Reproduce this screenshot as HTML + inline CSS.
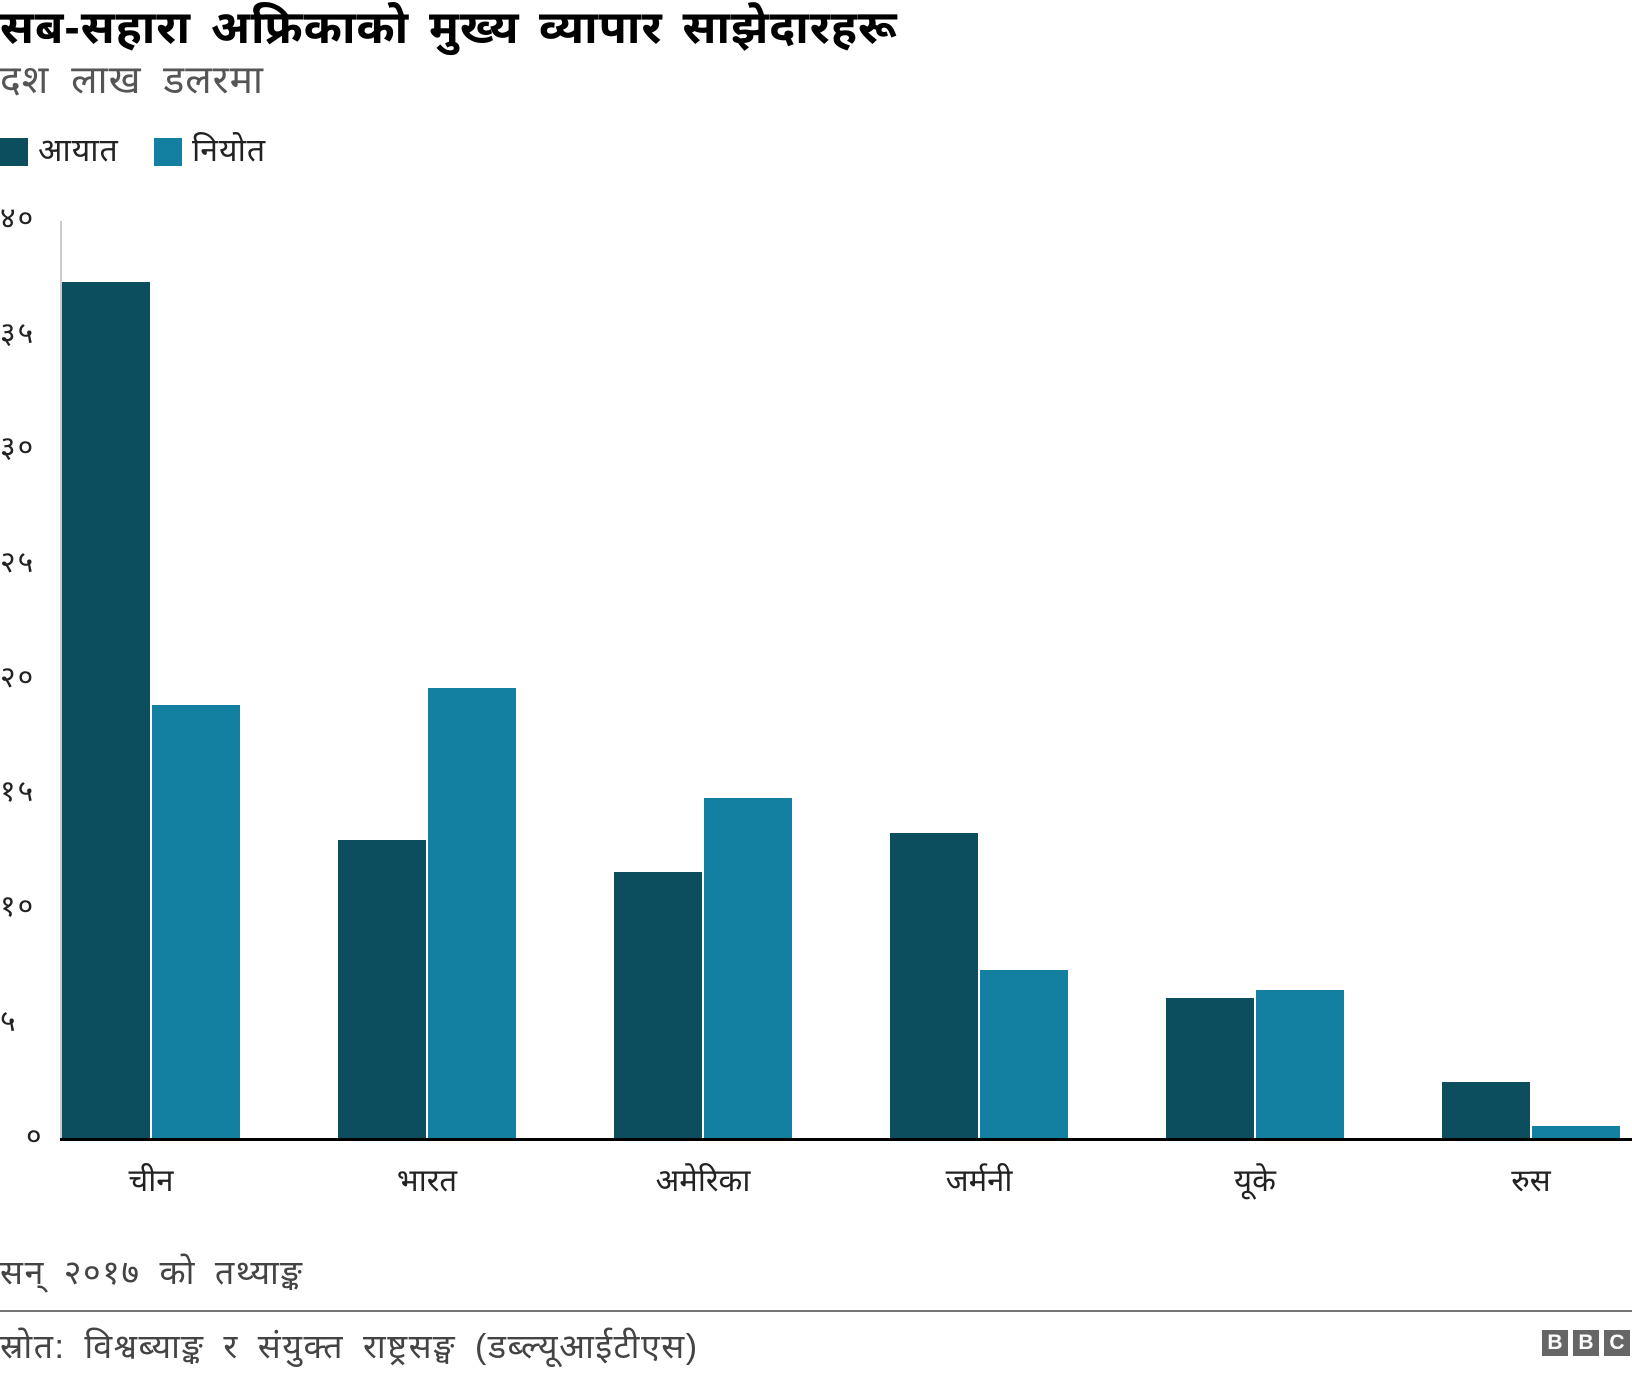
<!DOCTYPE html>
<html><head><meta charset="utf-8"><style>
body{margin:0;width:1632px;height:1378px;background:#fff;position:relative;overflow:hidden;font-family:"Liberation Sans","Noto Sans Devanagari","Lohit Devanagari",sans-serif;color:#222}
.a{position:absolute;white-space:nowrap}
.bar{position:absolute}
.i{background:#0c4d5e}.e{background:#1380a1}
.yl{position:absolute;left:0;width:50px;font-size:30px;line-height:30px;color:#222;letter-spacing:2px}
.xl{position:absolute;top:1163px;font-size:31px;width:200px;text-align:center}
.bbc{position:absolute;top:1330px;width:26px;height:26px;background:#666;color:#fff;font:bold 21px/26px "Liberation Sans",sans-serif;text-align:center}
</style></head><body>
<div class="a" style="left:0;top:0px;font-size:46px;font-weight:bold;color:#000;word-spacing:6px;letter-spacing:1px">सब-सहारा अफ्रिकाको मुख्य व्यापार साझेदारहरू</div>
<div class="a" style="left:0;top:58px;font-size:39px;color:#555;word-spacing:10px;letter-spacing:1px">दश लाख डलरमा</div>
<div class="a i" style="left:0;top:138px;width:28px;height:28px"></div>
<div class="a" style="left:38px;top:132px;font-size:32px;letter-spacing:1px">आयात</div>
<div class="a e" style="left:154px;top:138px;width:28px;height:28px"></div>
<div class="a" style="left:192px;top:132px;font-size:32px;letter-spacing:1px">नियोत</div>

<div class="a" style="left:60px;top:221px;width:2px;height:918px;background:#ccc"></div>
<div class="yl" style="top:204px">४०</div>
<div class="yl" style="top:319px">३५</div>
<div class="yl" style="top:433px">३०</div>
<div class="yl" style="top:548px">२५</div>
<div class="yl" style="top:663px">२०</div>
<div class="yl" style="top:777px">१५</div>
<div class="yl" style="top:892px">१०</div>
<div class="yl" style="top:1007px">५</div>
<div class="yl" style="top:1122px;padding-left:26px;width:20px">०</div>

<div class="bar i" style="left:62px;top:282px;width:88px;height:857px"></div>
<div class="bar e" style="left:152px;top:705px;width:88px;height:434px"></div>
<div class="bar i" style="left:338px;top:840px;width:88px;height:299px"></div>
<div class="bar e" style="left:428px;top:688px;width:88px;height:451px"></div>
<div class="bar i" style="left:614px;top:872px;width:88px;height:267px"></div>
<div class="bar e" style="left:704px;top:798px;width:88px;height:341px"></div>
<div class="bar i" style="left:890px;top:833px;width:88px;height:306px"></div>
<div class="bar e" style="left:980px;top:970px;width:88px;height:169px"></div>
<div class="bar i" style="left:1166px;top:998px;width:88px;height:141px"></div>
<div class="bar e" style="left:1256px;top:990px;width:88px;height:149px"></div>
<div class="bar i" style="left:1442px;top:1082px;width:88px;height:57px"></div>
<div class="bar e" style="left:1532px;top:1126px;width:88px;height:13px"></div>
<div class="a" style="left:60px;top:1138px;width:1572px;height:3px;background:#000"></div>

<div class="xl" style="left:51px">चीन</div>
<div class="xl" style="left:327px">भारत</div>
<div class="xl" style="left:603px">अमेरिका</div>
<div class="xl" style="left:879px">जर्मनी</div>
<div class="xl" style="left:1155px">यूके</div>
<div class="xl" style="left:1431px">रुस</div>

<div class="a" style="left:0;top:1254px;font-size:34px;color:#444;word-spacing:8px;letter-spacing:1.5px">सन् २०१७ को तथ्याङ्क</div>
<div class="a" style="left:0;top:1310px;width:1632px;height:2px;background:#777"></div>
<div class="a" style="left:0;top:1328px;font-size:34px;color:#444;word-spacing:8px;letter-spacing:1.5px">स्रोत: विश्वब्याङ्क र संयुक्त राष्ट्रसङ्घ (डब्ल्यूआईटीएस)</div>
<div class="bbc" style="left:1542px">B</div>
<div class="bbc" style="left:1573px">B</div>
<div class="bbc" style="left:1604px">C</div>
</body></html>
